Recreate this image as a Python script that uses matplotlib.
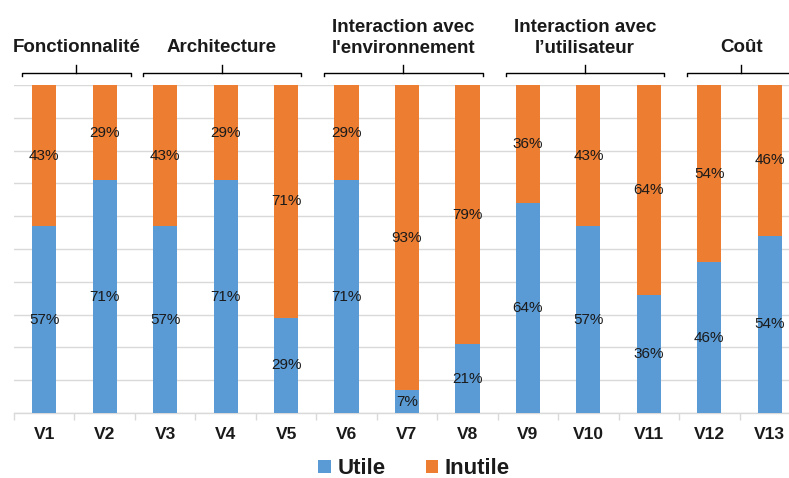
import matplotlib
matplotlib.use("Agg")
import matplotlib.pyplot as plt
from matplotlib.lines import Line2D
from matplotlib.patches import Patch
import numpy as np

plt.rcParams["font.family"] = ["Liberation Sans", "DejaVu Sans"]

# Data
categories = ["V1", "V2", "V3", "V4", "V5", "V6", "V7", "V8", "V9", "V10", "V11", "V12", "V13"]
utile = [57, 71, 57, 71, 29, 71, 7, 21, 64, 57, 36, 46, 54]
inutile = [43, 29, 43, 29, 71, 29, 93, 79, 36, 43, 64, 54, 46]
series_names = ["Utile", "Inutile"]
group_names = ["Fonctionnalité", "Architecture", "Interaction avec\nl'environnement",
               "Interaction avec\nl\u2019utilisateur", "Coût"]
group_first = [0, 2, 5, 8, 11]
group_last = [1, 4, 7, 10, 12]

blue = "#5B9BD5"
orange = "#ED7D31"
grid_col = "#D9D9D9"
text_col = "#1A1A1A"

W, H = 789, 478
fig = plt.figure(figsize=(W / 100, H / 100), dpi=100)
# the plotting area runs slightly past the right edge of the canvas
ax_left, ax_right, ax_top, ax_bottom = 14, 800, 85, 413
ax = fig.add_axes([ax_left / W, 1 - ax_bottom / H, (ax_right - ax_left) / W, (ax_bottom - ax_top) / H])


def px_to_axes_y(py):
    """Convert a pixel row (from top of canvas) to an axes-fraction y."""
    return (ax_bottom - py) / (ax_bottom - ax_top)


x = np.arange(len(categories))
bw = 0.4
ax.bar(x, utile, width=bw, color=blue, zorder=3)
ax.bar(x, inutile, width=bw, bottom=utile, color=orange, zorder=3)

for xi, u, n in zip(x, utile, inutile):
    ax.text(xi, u / 2, f"{u}%", ha="center", va="center", fontsize=11, color=text_col, zorder=4)
    ax.text(xi, u + n / 2, f"{n}%", ha="center", va="center", fontsize=11, color=text_col, zorder=4)

ax.set_xlim(-0.5, len(categories) - 0.5)
ax.set_ylim(0, 100)
ax.set_yticks(np.arange(0, 101, 10))
ax.yaxis.grid(True, color=grid_col, linewidth=1)
ax.set_axisbelow(True)
ax.tick_params(axis="y", left=False, labelleft=False)
ax.set_xticks(x)
ax.set_xticklabels(categories, fontsize=12.5, fontweight="bold", color=text_col)
ax.tick_params(axis="x", length=0, pad=10)
ax.set_xticks(np.arange(-0.5, len(categories), 1), minor=True)
ax.tick_params(axis="x", which="minor", length=5, color=grid_col, width=1)
for s in ["top", "right", "left"]:
    ax.spines[s].set_visible(False)
ax.spines["bottom"].set_color(grid_col)
ax.spines["bottom"].set_linewidth(1)

# Group headers with brackets
trans = ax.get_xaxis_transform()
bracket_y = px_to_axes_y(73)
drop = 3 / (ax_bottom - ax_top)
rise = 8 / (ax_bottom - ax_top)
for name, g0, g1 in zip(group_names, group_first, group_last):
    x0 = g0 - 0.5 + 0.13
    x1 = g1 + 0.5 - (0.07 if g1 in (1, 12) else 0.25)
    xm = (x0 + x1) / 2
    ax.add_line(Line2D([x0, x0, x1, x1], [bracket_y - drop, bracket_y, bracket_y, bracket_y - drop],
                       transform=trans, color="black", linewidth=1, clip_on=False))
    ax.add_line(Line2D([xm, xm], [bracket_y, bracket_y + rise], transform=trans,
                       color="black", linewidth=1, clip_on=False))
    if "\n" in name:
        ax.text(xm, px_to_axes_y(57), name, transform=trans, ha="center", va="bottom",
                fontsize=13.5, fontweight="bold", color=text_col, linespacing=1.3)
    else:
        ax.text(xm, px_to_axes_y(48), name, transform=trans, ha="center", va="center",
                fontsize=13.5, fontweight="bold", color=text_col)

handles = [Patch(facecolor=blue), Patch(facecolor=orange)]
leg = fig.legend(handles, series_names, loc="center", bbox_to_anchor=(414 / W, 1 - 469 / H), ncol=2,
                 frameon=False, prop={"size": 16, "weight": "bold"}, handlelength=0.55,
                 handleheight=0.55, handletextpad=0.3, columnspacing=1.8)
for t in leg.get_texts():
    t.set_color(text_col)

fig.savefig("out.png", dpi=100)
